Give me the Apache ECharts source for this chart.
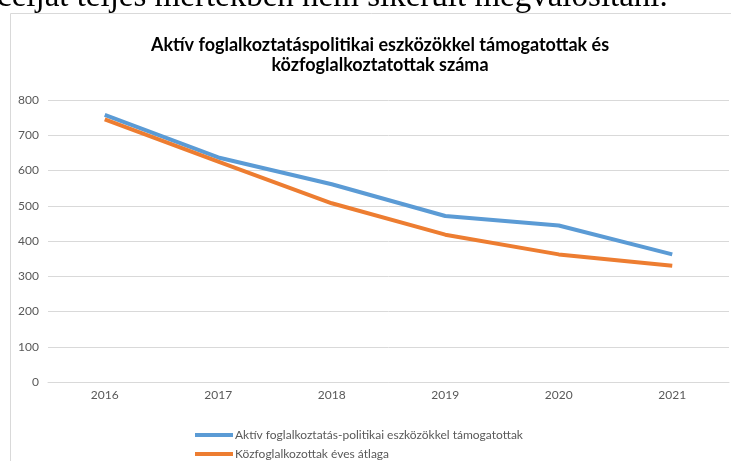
<!DOCTYPE html>
<html>
<head>
<meta charset="utf-8">
<title>ECharts</title>
<script src="https://cdn.jsdelivr.net/npm/echarts@6/dist/echarts.min.js"></script>
<style>body{margin:0;background:#fff;}</style>
</head>
<body>
<div id="main" style="width:731px;height:461px;"></div>
<script>
// adatok
var years = ['2016', '2017', '2018', '2019', '2020', '2021'];
var aktiv = [758, 637, 561, 471, 444, 362];
var kozfogl = [745, 625, 507, 418, 362, 330];
var seriesNames = ['Aktív foglalkoztatás-politikai eszközökkel támogatottak', 'Közfoglalkozottak éves átlaga'];

var myChart = echarts.init(document.getElementById('main'));
var option = {
    animation: false,
    textStyle: { fontFamily: 'Lato' },
    graphic: [
        { type: 'rect', left: 8, top: 11, shape: { width: 740, height: 470 },
          style: { fill: 'none', stroke: '#d9d9d9', lineWidth: 1 }, z: -1 },
        { type: 'text', x: -3, y: 14,
          style: { text: 'célját teljes mértékben nem sikerült megvalósítani.', font: '33px "Liberation Serif"', fill: '#000', verticalAlign: 'bottom' } }
    ],
    title: {
        text: 'Aktív foglalkoztatáspolitikai eszközökkel támogatottak és\nközfoglalkoztatottak száma',
        left: 375, top: 30, textAlign: 'center',
        textStyle: { fontFamily: 'Lato', fontWeight: 'bold', fontSize: 18, color: '#000', lineHeight: 20 }
    },
    legend: {
        orient: 'vertical', left: 190, top: 424, height: 60, itemGap: 7,
        itemWidth: 38, itemHeight: 4, icon: 'rect',
        textStyle: { fontFamily: 'Lato', fontSize: 12, color: '#595959', padding: [0, 0, 0, -3] },
        data: seriesNames
    },
    grid: { left: 48, right: 2, top: 100, bottom: 79, containLabel: false },
    xAxis: {
        type: 'category', data: years, boundaryGap: true,
        axisLine: { lineStyle: { color: '#d9d9d9' } },
        axisTick: { show: false },
        axisLabel: { color: '#595959', fontSize: 12, margin: 7 }
    },
    yAxis: {
        type: 'value', min: 0, max: 800, interval: 100,
        axisLine: { show: false },
        axisTick: { show: false },
        splitLine: { lineStyle: { color: '#d9d9d9', width: 1 } },
        axisLabel: { color: '#595959', fontSize: 12, margin: 9 }
    },
    series: [
        { name: seriesNames[0], type: 'line', data: aktiv, symbol: 'none',
          lineStyle: { width: 4, color: '#5b9bd5' }, itemStyle: { color: '#5b9bd5' } },
        { name: seriesNames[1], type: 'line', data: kozfogl, symbol: 'none',
          lineStyle: { width: 4, color: '#ed7d31' }, itemStyle: { color: '#ed7d31' } }
    ]
};
myChart.setOption(option);
</script>
</body>
</html>
